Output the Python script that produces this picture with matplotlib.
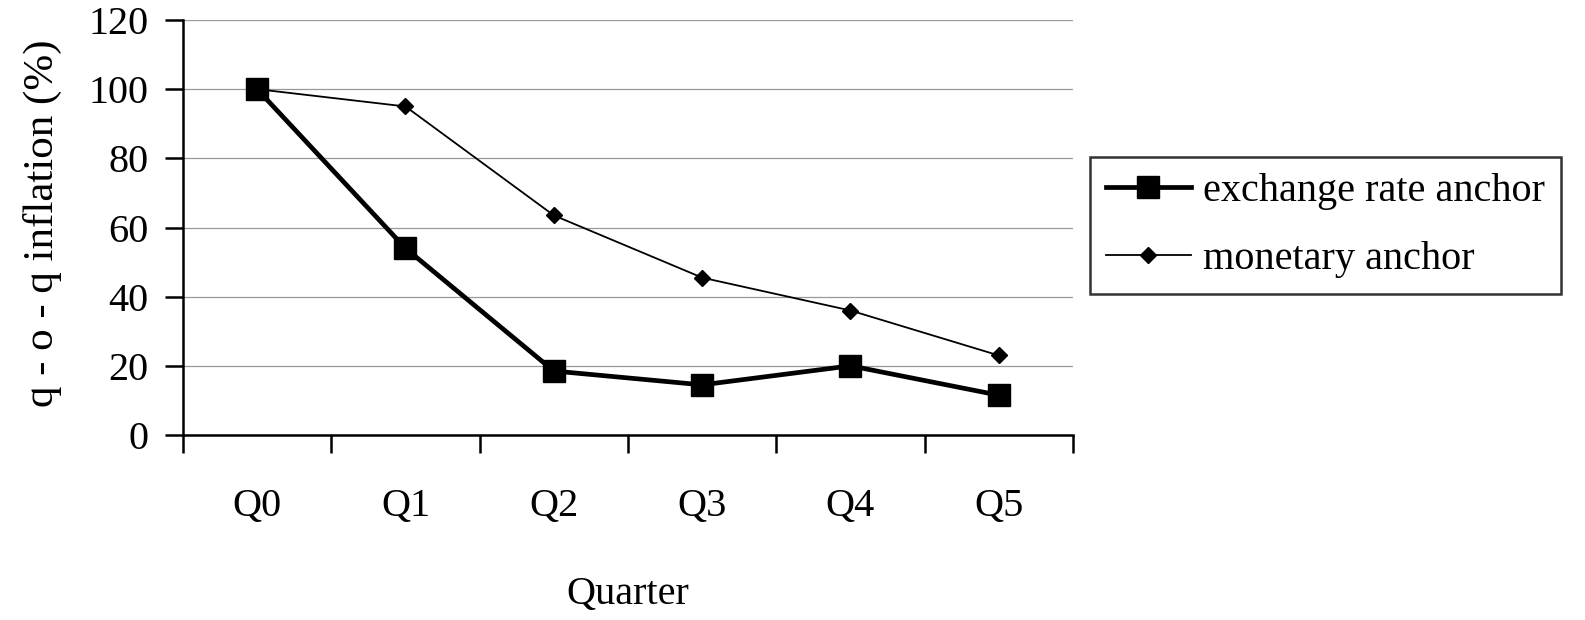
import matplotlib
matplotlib.use("Agg")
import matplotlib.pyplot as plt
import numpy as np

quarters = ["Q0", "Q1", "Q2", "Q3", "Q4", "Q5"]
exchange_rate = [100, 54, 18.5, 14.5, 20, 11.5]
monetary = [100, 95, 63.5, 45.5, 36, 23]
yticks = [0, 20, 40, 60, 80, 100, 120]

plt.rcParams['font.family'] = ['Liberation Serif', 'DejaVu Serif']
FS = 29

fig = plt.figure(figsize=(15.85, 6.2), dpi=100)
ax = fig.add_axes([183 / 1585, 1 - 435 / 620, 890 / 1585, 415 / 620])

x = np.arange(len(quarters))
ax.plot(x, exchange_rate, color='black', lw=3.4, marker='s', markersize=16,
        label='exchange rate anchor', zorder=3)
ax.plot(x, monetary, color='black', lw=1.3, marker='D', markersize=8.5,
        label='monetary anchor', zorder=3)

ax.set_xlim(-0.5, len(quarters) - 0.5)
ax.set_ylim(0, 120)
ax.set_yticks(yticks)
ax.set_yticklabels([str(v) for v in yticks])

# category ticks between the labels, labels centred
ax.set_xticks(np.arange(-0.5, len(quarters), 1.0))
ax.set_xticklabels([])
ax.set_xticks(x, minor=True)
ax.set_xticklabels(quarters, minor=True)
ax.tick_params(axis='x', which='minor', length=0, pad=38, labelsize=FS)
ax.tick_params(axis='x', which='major', direction='out', length=13, width=1.8)
ax.tick_params(axis='y', direction='out', length=13, width=1.8, labelsize=FS, pad=12)

ax.grid(axis='y', color='#999999', lw=0.9)
ax.set_axisbelow(True)
for s in ['top', 'right']:
    ax.spines[s].set_visible(False)
for s in ['left', 'bottom']:
    ax.spines[s].set_linewidth(1.8)

ax.set_xlabel('Quarter', fontsize=FS, labelpad=37)
fig.text(42 / 1585, 1 - 407 / 620, 'q - o - q inflation (%)', rotation=90,
         fontsize=31, ha='center', va='bottom')

leg = ax.legend(loc='upper left', bbox_to_anchor=(1090 / 1585, 1 - 157 / 620),
                bbox_transform=fig.transFigure, fontsize=FS, frameon=True,
                fancybox=False, edgecolor='black', handlelength=2.1,
                borderpad=0.4, labelspacing=0.75, handletextpad=0.3,
                borderaxespad=0)
leg.get_frame().set_linewidth(1.8)

fig.savefig('out.png', dpi=100)
